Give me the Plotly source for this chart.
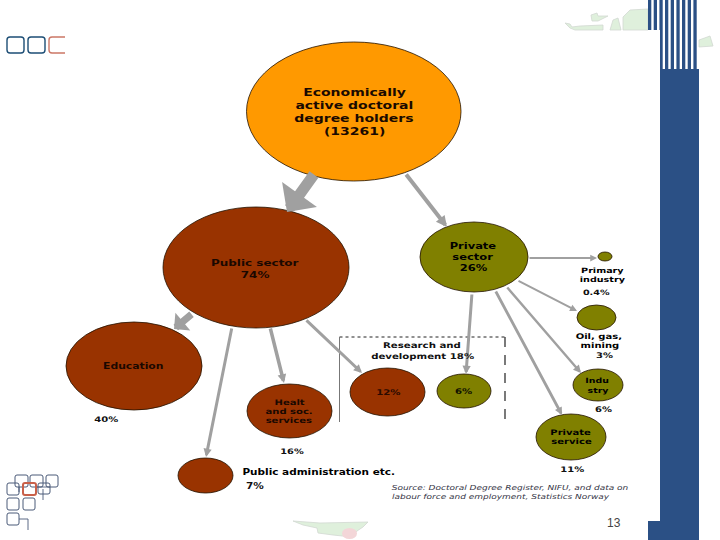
import plotly.graph_objects as go

# ---- diagram content ----
node_names = ["Economically active", "Public sector", "Private sector", "Primary industry", "Oil, gas, mining",
              "Industry", "Private service", "R&D private", "R&D public", "Education", "Health", "Public administration"]
node_shares = [100, 74, 26, 0.4, 3, 6, 11, 6, 12, 40, 16, 7]
node_boxes = [(246.5, 42, 461, 181), (163, 207, 349, 328), (420, 222, 528, 292), (598, 252, 612, 261),
              (577, 305, 616, 330), (573, 369, 623, 401), (536, 414, 606, 460), (437, 374, 491, 408),
              (350, 368, 425, 416), (66, 322, 202, 410), (247, 384, 332, 438), (178, 458, 233, 493)]
ORANGE, BROWN, OLIVE = "#ff9900", "#993300", "#808000"
node_colors = [ORANGE, BROWN, OLIVE, OLIVE, OLIVE, OLIVE, OLIVE, OLIVE, BROWN, BROWN, BROWN, BROWN]

# tail x, tail y, tip x, tip y, line width, head type, head size
arrows = [(315, 173, 287, 212, 11, 1, 0.65), (405, 173, 447, 227, 4, 2, 0.55), (193, 313, 174, 329, 7, 1, 0.55),
          (232, 327, 206, 457, 3, 2, 0.55), (270, 327, 284, 383, 3.5, 2, 0.5), (305, 319, 362, 373, 3, 2, 0.55),
          (528, 258, 597, 258, 1.8, 2, 0.75), (517, 280, 577, 311, 2, 2, 0.7), (506, 286, 581, 373, 2.4, 2, 0.65),
          (495, 290, 562, 415, 2.8, 2, 0.55), (472, 293, 466, 374, 3, 2, 0.55)]

B, D = "DejaVu Sans, sans-serif", "Liberation Sans, sans-serif"
# text, x, y, size, colour
labels = [
    ("Economically", 354, 92, 14, "#1a0a00"), ("active doctoral", 354, 105, 14, "#1a0a00"),
    ("degree holders", 354, 118, 14, "#1a0a00"), ("(13261)", 354, 131, 14, "#1a0a00"),
    ("Public sector", 255, 262, 12, "#1a0800"), ("74%", 255, 274, 12, "#1a0800"),
    ("Private", 473, 246, 11.5, "#000000"), ("sector", 473, 257, 11.5, "#000000"), ("26%", 473, 268, 11.5, "#000000"),
    ("Primary", 602, 270, 9.6, "#000000"), ("industry", 602, 279, 9.6, "#000000"), ("0.4%", 596, 292, 9.6, "#111111"),
    ("Oil, gas,", 599, 336, 10, "#000000"), ("mining", 600, 345, 10, "#000000"), ("3%", 604, 355, 10, "#111111"),
    ("Indu", 597, 380, 9.4, "#000000"), ("stry", 598, 390, 9.4, "#000000"), ("6%", 603, 409, 10, "#111111"),
    ("Private", 570, 432, 10, "#000000"), ("service", 571, 441, 10, "#000000"), ("11%", 572, 469, 10, "#111111"),
    ("Research and", 422, 345, 10.2, "#111111"), ("development 18%", 422, 356, 10.2, "#111111"),
    ("12%", 388, 392, 10.2, "#2a0a00"), ("6%", 463, 391, 10.2, "#111100"),
    ("Education", 133, 366, 10.8, "#1a0800"), ("40%", 106, 419, 10, "#111111"),
    ("Healt", 289, 402, 10, "#1a0800"), ("and soc.", 289, 411, 10, "#1a0800"), ("services", 289, 420, 10, "#1a0800"),
    ("16%", 292, 451, 9.8, "#111111"), ("7%", 255, 486, 10.5, "#111111"),
    ("Public administration etc.", 318, 472, 10.5, "#000000"),
]
source_lines = [("Source: Doctoral Degree Register, NIFU, and data on", 510, 488),
                ("labour force and employment, Statistics Norway", 501, 497)]
page_number = "13"
stretch = 1.3

BLUE, GREEN, PINK = "#2b5085", "#dff0dc", "#f3d6d8"
stripe_starts = [648, 653.7, 659.4, 665, 670.7, 676.4, 682, 687.7, 693.4]
land_patches = [
    "M565,23 L570,24 L572,27 L580,26 L603,25 L603,30 L575,30 L570,28 Z",
    "M591,15 L597,13 L598,16 L608,16 L598,21 L592,21 Z",
    "M610,30 L613,20 L618,18 L621,30 Z",
    "M623,17 L630,10 L648,9 L648,30 L623,30 Z",
    "M699,40 L710,36 L713,46 L699,47 Z",
    "M293,521 L320,523 L368,522 L363,527 L357,531 L352,537 L333,535 L318,533 L317,528 L303,525 Z",
]
pink_patch = (342, 528, 357, 539)
logo_dark = [(7, 37, 24, 53), (28, 37, 45, 53)]
logo_small = [(15, 475, 28, 487), (30, 475, 43, 487), (46, 475, 58, 487), (7, 483, 19, 495), (38, 483, 50, 494),
              (7, 498, 19, 510), (23, 498, 35, 510), (7, 513, 19, 525)]
logo_red = (23, 483, 36, 495)


def rounded(x0, y0, x1, y1, r):
    return (f"M{x0+r},{y0} L{x1-r},{y0} Q{x1},{y0} {x1},{y0+r} L{x1},{y1-r} Q{x1},{y1} {x1-r},{y1} "
            f"L{x0+r},{y1} Q{x0},{y1} {x0},{y1-r} L{x0},{y0+r} Q{x0},{y0} {x0+r},{y0} Z")


shapes = []
add = lambda **k: shapes.append(dict(xref="x", yref="y", layer="below", **k))

for p in land_patches:
    add(type="path", path=p, fillcolor=GREEN, line=dict(color="#d2d8d2", width=0.8))
add(type="circle", x0=pink_patch[0], y0=pink_patch[1], x1=pink_patch[2], y1=pink_patch[3], fillcolor=PINK, line=dict(width=0))
for s in stripe_starts:
    add(type="rect", x0=s, x1=s + 3.3, y0=0, y1=69, fillcolor=BLUE, line=dict(width=0))
add(type="rect", x0=648, x1=660, y0=30, y1=521, fillcolor="white", line=dict(width=0))
add(type="rect", x0=660, x1=699, y0=69, y1=540, fillcolor=BLUE, line=dict(width=0))
add(type="rect", x0=648, x1=660, y0=521, y1=540, fillcolor=BLUE, line=dict(width=0))

for b in logo_dark:
    add(type="path", path=rounded(*b, 3), line=dict(color="#1d4e75", width=1.4))
add(type="path", path="M65,37 L52,37 Q49,37 49,40 L49,50 Q49,53 52,53 L65,53", line=dict(color="#cc7766", width=1.4))
for b in logo_small:
    add(type="path", path=rounded(*b, 2), line=dict(color="#4a5a78", width=1))
add(type="path", path="M19,492 L19,487 M28,530 L28,519 L19,519 M43,489 L43,500 M36,487 L50,487", line=dict(color="#4a5a78", width=0.9))
add(type="path", path=rounded(*logo_red, 2), line=dict(color="#c8604a", width=2))

# dashed research and development frame
add(type="line", x0=339.5, x1=505, y0=337, y1=337, line=dict(color="#222222", width=1, dash="dot"))
add(type="line", x0=339.5, x1=339.5, y0=337, y1=422, line=dict(color="#777777", width=1))
add(type="line", x0=505, x1=505, y0=337, y1=422, line=dict(color="#222222", width=1.2, dash="10px,8px"))

for box, col in zip(node_boxes, node_colors):
    add(type="circle", x0=box[0], y0=box[1], x1=box[2], y1=box[3], fillcolor=col, line=dict(color="#221100", width=0.8))

ann = []
for tx, ty, hx, hy, w, kind, h in arrows:
    ann.append(dict(x=hx, y=hy, ax=tx, ay=ty, xref="x", yref="y", axref="x", ayref="y", text="", showarrow=True,
                    arrowhead=kind, arrowsize=h, arrowwidth=w, arrowcolor="#a0a0a0", standoff=0, startstandoff=0))
for t, x, y, s, c in labels:
    ann.append(dict(x=x, y=y, text=f"<b>{t}</b>", showarrow=False, xref="x", yref="y", xanchor="center", yanchor="middle",
                    font=dict(family=B, size=s / stretch, color=c)))
for t, x, y in source_lines:
    ann.append(dict(x=x, y=y, text=f"<i>{t}</i>", showarrow=False, xref="x", yref="y", xanchor="center", yanchor="middle",
                    font=dict(family=B, size=9 / stretch, color="#333344")))
ann.append(dict(x=614, y=523, text=page_number, showarrow=False, xref="x", yref="y",
                font=dict(family=D, size=12, color="#444444")))

fig = go.Figure()
fig.update_layout(width=720, height=540, margin=dict(l=0, r=0, t=0, b=0), paper_bgcolor="white", plot_bgcolor="white",
                  showlegend=False, shapes=shapes, annotations=ann,
                  xaxis=dict(range=[0, 720], visible=False, fixedrange=True),
                  yaxis=dict(range=[540, 0], visible=False, fixedrange=True))
widen = f"""
document.body.style.margin='0';document.body.style.overflow='hidden';
document.querySelectorAll('.annotation-text').forEach(function(t){{
  if (t.textContent === '{page_number}' || !t.textContent) return;
  var n = t.getComputedTextLength();
  t.setAttribute('textLength', n * {stretch});
  t.setAttribute('lengthAdjust', 'spacingAndGlyphs');
}});
"""
fig.write_html("out.html", config=dict(displayModeBar=False), post_script=widen)
